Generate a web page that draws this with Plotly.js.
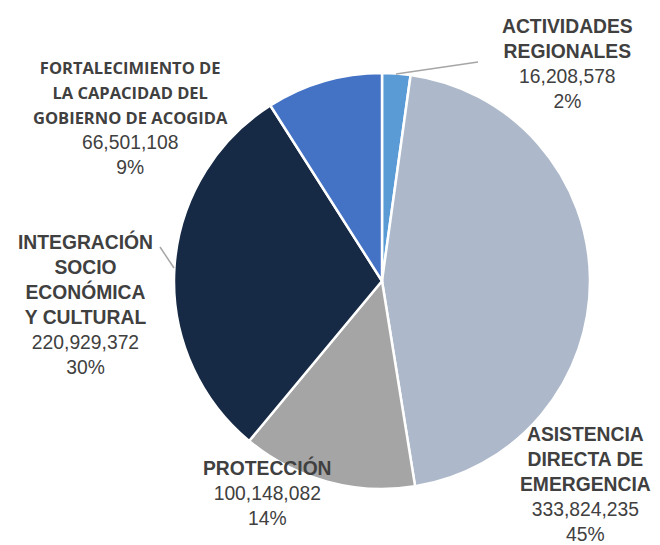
<!DOCTYPE html>
<html>
<head>
<meta charset="utf-8">
<script src="https://cdn.plot.ly/plotly-3.0.1.min.js"></script>
<style>html,body{margin:0;padding:0;background:#fff;}#chart{width:660px;height:545px;}</style>
</head>
<body>
<div id="chart"></div>
<script>
const categories = [
  "ACTIVIDADES REGIONALES",
  "ASISTENCIA DIRECTA DE EMERGENCIA",
  "PROTECCIÓN",
  "INTEGRACIÓN SOCIO ECONÓMICA Y CULTURAL",
  "FORTALECIMIENTO DE LA CAPACIDAD DEL GOBIERNO DE ACOGIDA"
];
const labelLines = [
  ["ACTIVIDADES", "REGIONALES"],
  ["ASISTENCIA", "DIRECTA DE", "EMERGENCIA"],
  ["PROTECCIÓN"],
  ["INTEGRACIÓN", "SOCIO", "ECONÓMICA", "Y CULTURAL"],
  ["FORTALECIMIENTO DE", "LA CAPACIDAD DEL", "GOBIERNO DE ACOGIDA"]
];
const values = [16208578, 333824235, 100148082, 220929372, 66501108];
const colors = ["#5b9bd5", "#adb9ca", "#a5a5a5", "#172a45", "#4472c4"];

const W = 660, H = 545;
const px = x => x / W;
const py = y => 1 - y / H;

const total = values.reduce((a, b) => a + b, 0);
const fmt = v => v.toLocaleString("en-US");
const pct = v => Math.round(v / total * 100) + "%";

// label placement (pixel positions of the top-centre of each label block)
const labelPos = [
  [567, 14], [585, 422], [267, 454], [85, 228], [130, 54]
];
const labelFont = [null, null, null, null, "Open Sans"];

const annotations = categories.map((c, i) => {
  const f = labelFont[i];
  const head = labelLines[i].map(l => f
    ? `<span style="font-family:'${f}';font-size:16.5px"><b>${l}</b></span>`
    : `<b>${l}</b>`).join("<br>");
  return {
    text: head + "<br>" + fmt(values[i]) + "<br>" + pct(values[i]),
    x: px(labelPos[i][0]), y: py(labelPos[i][1]),
    xref: "paper", yref: "paper", xanchor: "center", yanchor: "top",
    showarrow: false, align: "center",
    font: {family: "Liberation Sans, Arial, sans-serif", size: 19.3, color: "#404040"}
  };
});

const leaders = [
  [[396, 74], [478, 62]],
  [[160, 247], [174, 268]]
];
const shapes = leaders.map(l => ({
  type: "line", xref: "paper", yref: "paper",
  x0: px(l[0][0]), y0: py(l[0][1]), x1: px(l[1][0]), y1: py(l[1][1]),
  line: {color: "#a6a6a6", width: 1.5}
}));

const cx = 382, cy = 281, r = 208;
Plotly.newPlot("chart", [{
  type: "pie",
  labels: categories,
  values: values,
  sort: false,
  direction: "clockwise",
  rotation: 0,
  textinfo: "none",
  hoverinfo: "label+value+percent",
  marker: {colors: colors, line: {color: "#ffffff", width: 2.5}},
  domain: {x: [px(cx - r), px(cx + r)], y: [py(cy + r), py(cy - r)]}
}], {
  width: W, height: H,
  margin: {l: 0, r: 0, t: 0, b: 0},
  showlegend: false,
  paper_bgcolor: "#ffffff",
  annotations: annotations,
  shapes: shapes
}, {displayModeBar: false, staticPlot: true});
</script>
</body>
</html>
